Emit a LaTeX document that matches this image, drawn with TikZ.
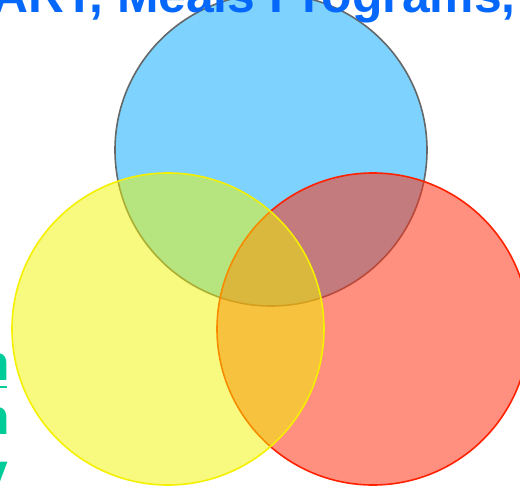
\documentclass[tikz,border=0pt]{standalone}
\usepackage{fontspec}
\setmainfont{Liberation Sans}
\usepackage{xcolor}
\usetikzlibrary{positioning}

\definecolor{skyfill}{RGB}{125,211,253}
\definecolor{skyline}{RGB}{100,104,104}
\definecolor{redfill}{RGB}{255,51,22}
\definecolor{redline}{RGB}{255,34,0}
\definecolor{yelfill}{RGB}{240,245,0}
\definecolor{yelline}{RGB}{245,240,0}
\definecolor{titleblue}{RGB}{5,104,250}
\definecolor{labelgreen}{RGB}{0,204,153}

\tikzset{
  venn/.style={line width=1.6bp},
  bigtext/.style={inner sep=0pt, font=\fontsize{50}{60}\selectfont\bfseries},
}

\begin{document}
\begin{tikzpicture}[x=1bp, y=-1bp]
% 1 unit = 1 px of the reference, y runs downwards
\path[use as bounding box, clip] (0,0) rectangle (520,487);
\draw[venn, draw=skyline, fill=skyfill] (271,150) circle[radius=156];
\draw[venn, draw=redline, fill=redfill, fill opacity=0.55] (373,329) circle[radius=156];
\draw[venn, draw=yelline, fill=yelfill, fill opacity=0.5] (168,329) circle[radius=156];
\node[bigtext, text=titleblue, anchor=base east] (title) at (516,12.5) {ART, Meals Programs,};
\node[bigtext, text=labelgreen, anchor=base east] (n1) at (10.5,380) {n};
\node[bigtext, text=labelgreen, anchor=base east] (n2) at (10.5,434) {n};
\node[bigtext, text=labelgreen, anchor=base east] (y1) at (8,488) {y};
\draw[labelgreen, line width=2.5bp] ([yshift=-7bp]n1.base west) -- ([xshift=-3.5bp, yshift=-7bp]n1.base east);
\end{tikzpicture}
\end{document}
